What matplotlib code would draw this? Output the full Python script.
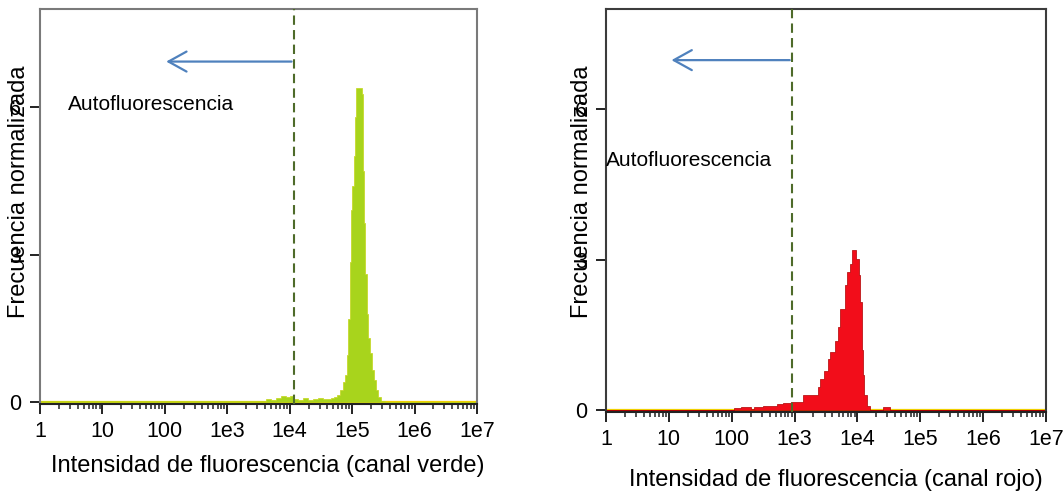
"""Two flow-cytometry histograms: green and red channel, normalized frequency."""

import matplotlib
matplotlib.use("Agg")
import matplotlib.pyplot as plt
import matplotlib.ticker as mticker
import numpy as np

plt.rcParams["font.family"] = ["Liberation Sans", "DejaVu Sans"]

# green channel histogram: left bin edge (log10 intensity), height
green_log = [0.0, 3.55, 3.62, 3.70, 3.78, 3.86, 3.94, 4.00, 4.06, 4.14, 4.22,
             4.30, 4.38, 4.46, 4.54, 4.62, 4.66, 4.71, 4.76, 4.80, 4.85, 4.89,
             4.91, 4.94, 4.965, 4.985, 5.005, 5.025, 5.045, 5.065, 5.15, 5.175,
             5.19, 5.21, 5.23, 5.25, 5.29, 5.32, 5.35, 5.38, 5.42, 5.47, 5.52,
             7.0]
green_h = [0.02, 0.03, 0.06, 0.05, 0.09, 0.12, 0.10, 0.13, 0.07, 0.05, 0.08,
           0.05, 0.06, 0.08, 0.06, 0.07, 0.08, 0.10, 0.14, 0.25, 0.40, 0.55,
           0.95, 1.70, 2.85, 3.90, 4.40, 5.00, 5.80, 6.40, 6.28, 4.70,
           3.65, 2.60, 1.80, 1.30, 1.00, 0.65, 0.45, 0.25, 0.10, 0.03, 0.01,
           0.01]

# red channel histogram
red_log = [0.0, 2.03, 2.15, 2.30, 2.35, 2.50, 2.72, 2.82, 2.95, 3.13, 3.37,
           3.40, 3.47, 3.53, 3.57, 3.64, 3.69, 3.72, 3.80, 3.83, 3.88, 3.92,
           3.98, 4.02, 4.04, 4.07, 4.09, 4.11, 4.15, 4.20, 4.40, 4.52, 7.0]
red_h = [0.0, 0.03, 0.06, 0.02, 0.06, 0.08, 0.11, 0.13, 0.16, 0.29, 0.45,
         0.62, 0.78, 1.02, 1.15, 1.38, 1.65, 2.01, 2.50, 2.75, 2.92, 3.19,
         3.02, 2.70, 2.15, 1.20, 0.70, 0.30, 0.08, 0.0, 0.05, 0.0, 0.0]

xticks = [1, 10, 100, 1e3, 1e4, 1e5, 1e6, 1e7]
xticklabels = ["1", "10", "100", "1e3", "1e4", "1e5", "1e6", "1e7"]
yticks = [0, 3, 6]

panels = [
    dict(log=green_log, h=green_h, fc="#a8d41c", ec="#c4d61a",
         gate=1.15e4, arrow_tip=105, arrow_y=6.93,
         text_x=2.8, text_y=6.06, spine="#7a7a7a",
         xlabel="Intensidad de fluorescencia (canal verde)",
         rect=[40 / 1064, 92 / 496, 437 / 1064, 395 / 496],
         xl=(0.522, -0.128), yl=(-0.023, 0.537)),
    dict(log=red_log, h=red_h, fc="#f20d1a", ec="#b00000",
         gate=900, arrow_tip=11, arrow_y=6.98,
         text_x=1.0, text_y=4.98, spine="#3c3c3c",
         xlabel="Intensidad de fluorescencia (canal rojo)",
         rect=[606 / 1064, 84 / 496, 440 / 1064, 403 / 496],
         xl=(0.523, -0.142), yl=(-0.030, 0.546)),
]

fig = plt.figure(figsize=(10.64, 4.96), dpi=100)

for p in panels:
    ax = fig.add_axes(p["rect"])
    x = 10 ** np.asarray(p["log"])
    h = np.asarray(p["h"])
    ax.axhline(0, color="#f0d000", lw=1.6, zorder=1)
    ax.fill_between(x, h, step="post", facecolor=p["fc"], edgecolor=p["ec"],
                    lw=0.5, zorder=2)
    ax.axvline(p["gate"], color="#4e6b2a", lw=1.5, dashes=(4.5, 2.5), zorder=3)
    ax.annotate("", xy=(p["arrow_tip"], p["arrow_y"]),
                xytext=(p["gate"] * 0.93, p["arrow_y"]),
                arrowprops=dict(arrowstyle="->,head_length=0.65,head_width=0.36",
                                color="#4f81bd", lw=1.6, mutation_scale=20,
                                shrinkA=0, shrinkB=0))
    ax.text(p["text_x"], p["text_y"], "Autofluorescencia", fontsize=15,
            ha="left", va="center")

    ax.set_xscale("log")
    ax.set_xlim(1, 1e7)
    ax.set_ylim(-0.04, 8)
    ax.set_xticks(xticks)
    ax.set_xticklabels(xticklabels)
    ax.xaxis.set_minor_locator(mticker.LogLocator(base=10, subs=range(2, 10),
                                                  numticks=20))
    ax.xaxis.set_minor_formatter(mticker.NullFormatter())
    ax.set_yticks(yticks)
    ax.tick_params(axis="both", which="major", direction="out", length=7,
                   width=1.4, labelsize=15.5, color="#222222")
    ax.tick_params(axis="x", which="major", pad=5)
    ax.tick_params(axis="y", which="major", pad=6.5)
    ax.tick_params(axis="x", which="minor", direction="out", length=3.5,
                   width=1.1, color="#222222")
    for side in ("left", "top", "right"):
        ax.spines[side].set_color(p["spine"])
        ax.spines[side].set_linewidth(1.5)
    ax.spines["bottom"].set_color("#222222")
    ax.spines["bottom"].set_linewidth(1.5)

    ax.set_xlabel(p["xlabel"], fontsize=17)
    ax.xaxis.set_label_coords(*p["xl"])
    ax.set_ylabel("Frecuencia normalizada", fontsize=17)
    ax.yaxis.set_label_coords(*p["yl"])

fig.savefig("out.png", dpi=100)
